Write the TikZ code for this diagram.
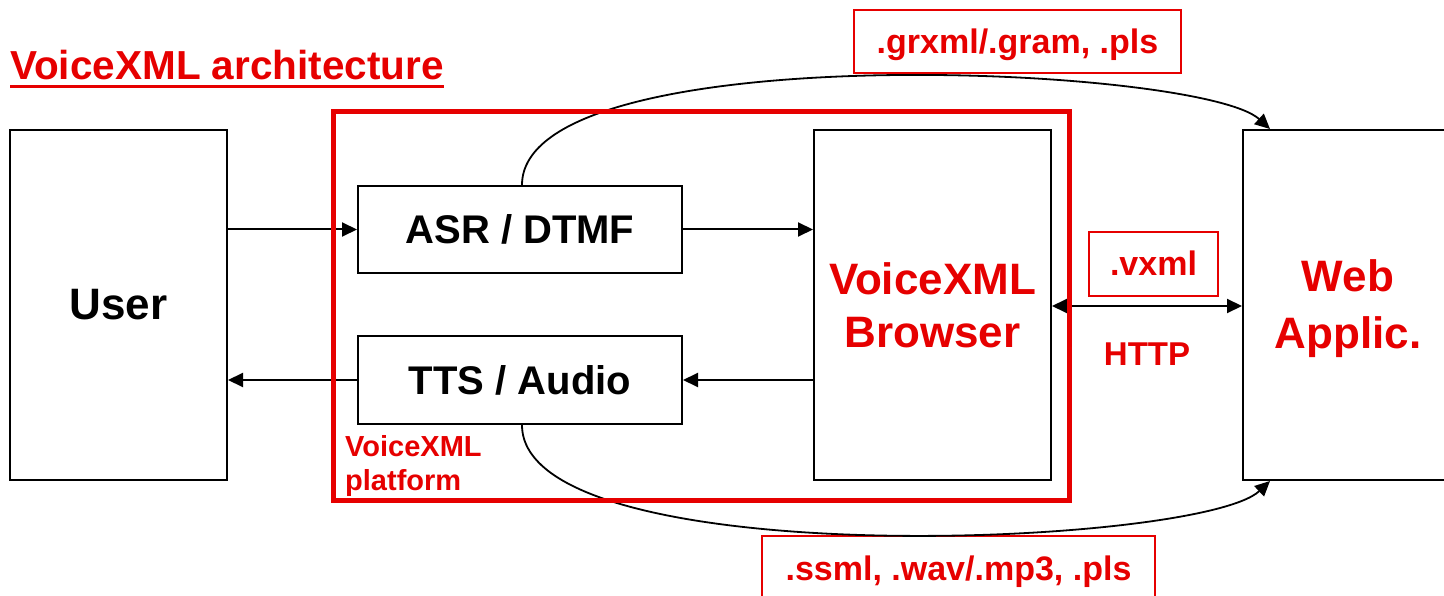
\documentclass[tikz,border=0pt]{standalone}
\usepackage{fontspec}
\setmainfont{Liberation Sans}
\usetikzlibrary{arrows.meta}
\definecolor{vred}{RGB}{230,0,0}
\begin{document}
\begin{tikzpicture}[x=1pt,y=-1pt,
  box/.style={draw=black, line width=2pt, inner sep=0pt, font=\fontsize{40}{48}\selectfont\bfseries},
  lbl/.style={draw=vred, line width=1.5pt, inner sep=0pt, text=vred, font=\fontsize{34}{40}\selectfont\bfseries, text height=24pt, text depth=0pt},
  conn/.style={line width=2pt, -{Triangle[length=15pt,width=14pt]}},
  dconn/.style={line width=2pt, {Triangle[length=15pt,width=14pt]}-{Triangle[length=15pt,width=14pt]}},
  curv/.style={line width=1.8pt, -{Triangle[length=15pt,width=14pt]}},
  redtxt/.style={text=vred, inner sep=0pt, font=\bfseries}
]
\useasboundingbox (0,0) rectangle (1444,596);

% title
\node[redtxt, anchor=base west, font=\fontsize{40.5}{46}\selectfont\bfseries] (title) at (10,80) {VoiceXML architecture};
\draw[vred, line width=3pt] ([yshift=-7pt]title.base west) -- ([yshift=-7pt]title.base east);

% boxes
\node[box, minimum width=217pt, minimum height=350pt, font=\fontsize{44}{53}\selectfont\bfseries] (user) at (118.5,305) {User};
\node[box, minimum width=324pt, minimum height=87pt] (asr) at (520,229.5) {ASR / DTMF};
\node[box, minimum width=324pt, minimum height=88pt] (tts) at (520,380) {TTS / Audio};
\node[box, minimum width=237pt, minimum height=350pt, align=center, text=vred, font=\fontsize{44}{53}\selectfont\bfseries] (browser) at (932.5,305) {VoiceXML\\Browser};
\node[box, minimum width=207pt, minimum height=350pt] (web) at (1346.5,305) {};
\node[redtxt, align=center, font=\fontsize{44}{57}\selectfont\bfseries] (webtxt) at (1348,309) {Web\\Applic.};

% label boxes
\node[lbl, minimum width=327pt, minimum height=63pt] (grxml) at (1017.5,41.5) {.grxml/.gram, .pls};
\node[lbl, minimum width=129pt, minimum height=64pt] (vxml) at (1153.5,264) {.vxml};
\node[lbl, minimum width=393pt, minimum height=64pt] (ssml) at (958.5,568) {.ssml, .wav/.mp3, .pls};
\node[redtxt, font=\fontsize{33}{40}\selectfont\bfseries, text height=23.6pt, text depth=0pt] (http) at (1147,353.5) {HTTP};

% connectors
\draw[conn] (user.east |- asr.west) -- (asr.west);
\draw[conn] (asr.east) -- (asr.east -| browser.west);
\draw[conn] (tts.east -| browser.west) -- (tts.east);
\draw[conn] (tts.west) -- (tts.west -| user.east);
\draw[dconn] ([yshift=-1pt]browser.east) -- ([yshift=-1pt]web.west);

\coordinate (webin1) at ([xshift=28pt]web.north west);
\coordinate (webin2) at ([xshift=28pt]web.south west);
\draw[curv] ([xshift=2pt]asr.north) .. controls (522,35) and (1200,65) .. (webin1);
\draw[curv] ([xshift=2pt]tts.south) .. controls (522,575) and (1200,547) .. (webin2);

% platform
\draw[vred, line width=5pt] (333,112) rectangle (1069,500);
\node[redtxt, anchor=north west, align=left, font=\fontsize{29}{34}\selectfont\bfseries] (plat) at (345,435) {VoiceXML\\platform};
\end{tikzpicture}
\end{document}
